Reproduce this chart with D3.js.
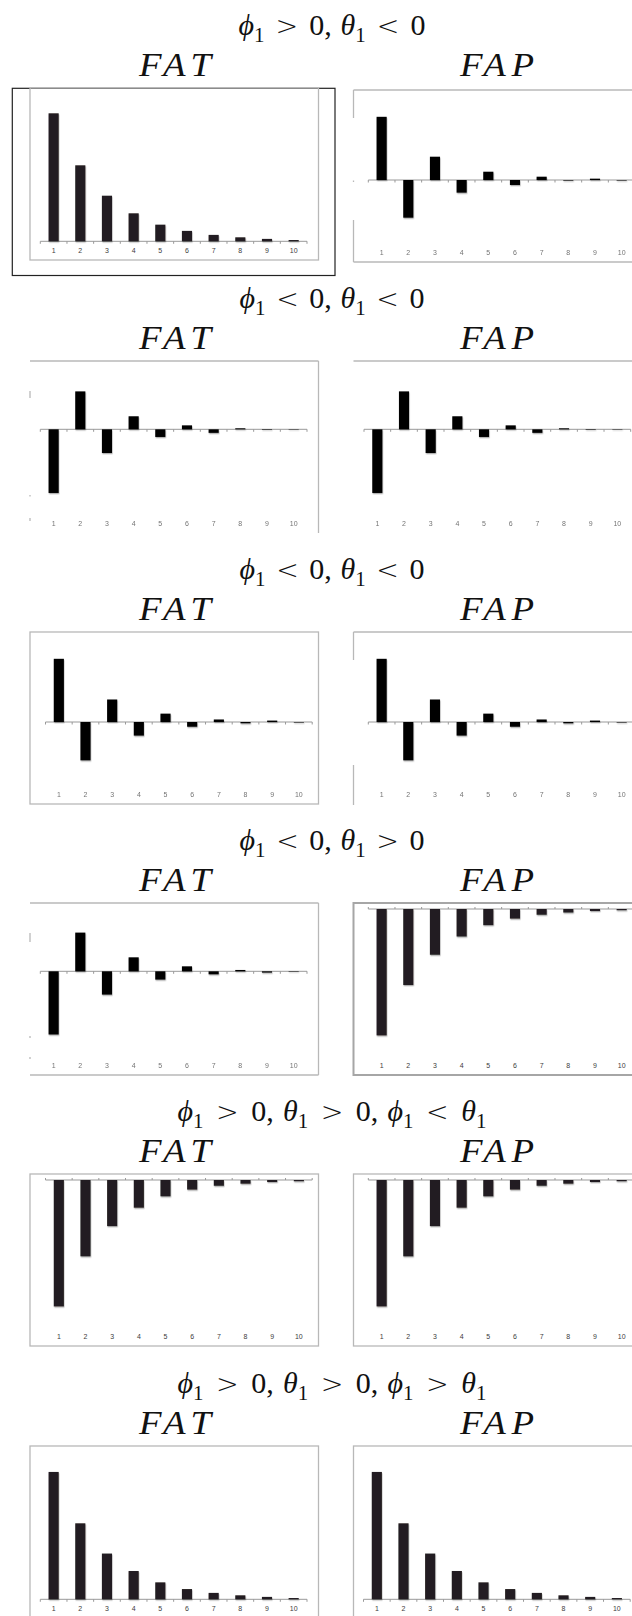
<!DOCTYPE html>
<html>
<head>
<meta charset="utf-8">
<script src="https://cdn.jsdelivr.net/npm/d3@7"></script>
<style>
  html, body { margin: 0; padding: 0; background: #fff; }
  svg { display: block; }
</style>
</head>
<body>
<script>
// Lags shown on every panel
const lags = ["1", "2", "3", "4", "5", "6", "7", "8", "9", "10"];

// Row headings (ARMA(1,1) parameter cases); "_1" marks a subscript
const rowTitles = [
  "ϕ_1 > 0, θ_1 < 0",
  "ϕ_1 < 0, θ_1 < 0",
  "ϕ_1 < 0, θ_1 < 0",
  "ϕ_1 < 0, θ_1 > 0",
  "ϕ_1 > 0, θ_1 > 0, ϕ_1 < θ_1",
  "ϕ_1 > 0, θ_1 > 0, ϕ_1 > θ_1"
];
const panelNames = ["FAT", "FAP"];

// Autocorrelation (FAT) and partial autocorrelation (FAP) by lag
const fat1 = [0.800, 0.475, 0.285, 0.175, 0.104, 0.065, 0.040, 0.025, 0.015, 0.008];
const fap1 = [0.800, -0.477, 0.295, -0.160, 0.105, -0.063, 0.042, -0.008, 0.017, -0.007];
const fat2 = [-0.806, 0.480, -0.300, 0.165, -0.097, 0.050, -0.045, 0.013, -0.007, -0.005];
const fap2 = [-0.806, 0.480, -0.300, 0.165, -0.097, 0.050, -0.045, 0.013, -0.007, -0.005];
const fat3 = [0.800, -0.485, 0.285, -0.172, 0.106, -0.060, 0.032, -0.017, 0.018, -0.007];
const fap3 = [0.800, -0.485, 0.285, -0.172, 0.106, -0.060, 0.032, -0.017, 0.018, -0.007];
const fat4 = [-0.800, 0.490, -0.295, 0.177, -0.105, 0.063, -0.038, 0.017, -0.017, -0.006];
const fap4 = [-0.790, -0.475, -0.286, -0.172, -0.101, -0.060, -0.036, -0.022, -0.0125, -0.008];
const fat5 = [-0.790, -0.477, -0.288, -0.173, -0.102, -0.060, -0.036, -0.023, -0.0125, -0.008];
const fap5 = [-0.790, -0.477, -0.288, -0.173, -0.102, -0.060, -0.036, -0.023, -0.0125, -0.008];
const fat6 = [0.796, 0.475, 0.286, 0.177, 0.106, 0.064, 0.040, 0.025, 0.015, 0.008];
const fap6 = [0.796, 0.475, 0.286, 0.177, 0.106, 0.064, 0.040, 0.025, 0.015, 0.008];

const fatSeries = [fat1, fat2, fat3, fat4, fat5, fat6];
const fapSeries = [fap1, fap2, fap3, fap4, fap5, fap6];

// ---- layout ----
const W = 632, H = 1616;
const rowTops = [88, 361, 632, 903, 1174, 1446];
const titleWidths = [187, 185, 185, 185, 309, 309];
const nameWidths = [72, 74];
const boxX = [30, 353.5], boxW = [288.5, 290], boxH = 172;
const fatMode = ["pos", "mixB", "mixA", "mixB", "neg", "pos"];
const fapMode = ["mixA", "mixB", "mixA", "neg", "neg", "pos"];
const fatAxisX = [40.3, 40.3, 45.5, 40.3, 45.5, 40.3];
const fapAxisX = [368.3, 364, 368.3, 368.3, 368.3, 363.5];
const fatDark = [true, false, false, false, true, true];
const fapDark = [false, false, false, true, true, true];
const fatBorder = ["full", "topRight", "full", "topRightBottom", "full", "full"];
const fapBorder = ["topBottom", "top", "top", "full", "full", "full"];
const fatLeftBits = [[], [[30, 37], [134, 135.5], [157, 160]], [], [[30, 39], [133, 135], [154, 156]], [], []];
const fapLeftBits = [[[0, 28], [90.5, 92], [130, 172]], [], [[0, 28], [133, 173]], [], [], []];

// vertical scale setups: zero offset from box top, domain, and units -> px
const modes = {
  pos:  { zero: 153.3, domain: [0, 0.9],  up: 160, down: 0 },
  neg:  { zero: 6,     domain: [-0.9, 0], up: 0,   down: 160 },
  mixA: { zero: 90,    domain: [-1, 1],   up: 79,  down: 79 },
  mixB: { zero: 68.3,  domain: [-1, 0.6], up: 79,  down: 79 }
};

const svg = d3.select("body").append("svg")
  .attr("width", W).attr("height", H)
  .attr("viewBox", `0 0 ${W} ${H}`);

const defs = svg.append("defs");
defs.append("filter").attr("id", "barShadow")
  .attr("filterUnits", "userSpaceOnUse")
  .attr("x", 0).attr("y", 0).attr("width", W).attr("height", H)
  .append("feDropShadow")
  .attr("dx", 0.5).attr("dy", 1.3).attr("stdDeviation", 0.7)
  .attr("flood-color", "#000").attr("flood-opacity", 0.3);

const mathFont = "'Liberation Serif', 'DejaVu Serif', serif";
const relFont = "'DejaVu Sans', sans-serif";

// math-style heading: italic letters, upright digits, thin relation signs,
// subscripts; extra room goes mostly around the relation signs
function mathHeading(sel, str, x, y, size, width) {
  const t = sel.append("text")
    .attr("x", x).attr("y", y)
    .attr("text-anchor", "middle")
    .attr("font-family", mathFont)
    .attr("font-size", size)
    .attr("fill", "#111")
    .style("white-space", "pre");
  let shift = 0;
  const spaces = [];
  for (let i = 0; i < str.length; i++) {
    const c = str[i];
    if (c === "_") {
      const d = str[++i];
      const s = size * 0.22;
      t.append("tspan").attr("dy", s - shift).attr("font-size", size * 0.7).text(d);
      shift = s;
      continue;
    }
    const ts = t.append("tspan").text(c);
    if (shift) { ts.attr("dy", -shift); shift = 0; }
    if (/[ϕθA-Za-z]/.test(c)) ts.attr("font-style", "italic");
    if (c === "<" || c === ">") ts.attr("font-family", relFont).attr("font-size", size * 0.9)
      .attr("font-weight", 300);
    if (c === " ") spaces.push({ ts, w: str[i - 1] === "," ? 0.35 : 1 });
  }
  const natural = t.node().getComputedTextLength();
  const unit = (width - natural) / Math.max(1, d3.sum(spaces, s => s.w));
  spaces.forEach(s => s.ts.attr("dx", unit * s.w));
  return t;
}

// italic panel name, widened a little and spaced to the printed width
function panelName(sel, str, x, y, size, width) {
  const sx = 1.12;
  return sel.append("g")
    .attr("transform", `translate(${x},${y}) scale(${sx},1)`)
    .append("text")
    .attr("text-anchor", "middle")
    .attr("font-family", mathFont)
    .attr("font-style", "italic")
    .attr("font-size", size)
    .attr("fill", "#111")
    .attr("textLength", width / sx)
    .attr("lengthAdjust", "spacing")
    .text(str);
}

function drawPanel(g, cfg) {
  const { x0box, top, w, values, mode, axisX, dark, border, leftBits, crisp } = cfg;
  const m = modes[mode];
  const zeroY = top + m.zero;
  const y = d3.scaleLinear()
    .domain(m.domain)
    .range([zeroY + m.down * -m.domain[0], zeroY - m.up * m.domain[1]]);

  const step = 26.67;
  const x = d3.scaleBand()
    .domain(lags)
    .range([axisX, axisX + step * lags.length])
    .paddingInner(0.62)
    .paddingOuter(0.31);

  // frame
  const fr = g.append("g").attr("fill", "none")
    .attr("stroke", cfg.thick ? "#a6a6a6" : "#b8b8b8")
    .attr("stroke-width", cfg.thick ? 2 : 1.3);
  const L = x0box, R = x0box + w, T = top, B = top + boxH;
  const seg = (a, b, c, d) => fr.append("line").attr("x1", a).attr("y1", b).attr("x2", c).attr("y2", d);
  if (border === "full") fr.append("rect").attr("x", L).attr("y", T).attr("width", w).attr("height", boxH);
  if (border.startsWith("top")) seg(L, T, R, T);
  if (border === "topRight" || border === "topRightBottom") seg(R, T, R, B);
  if (border === "topRightBottom" || border === "topBottom") seg(L, B, R, B);
  leftBits.forEach(([a, b]) => seg(L, T + a, L, T + b));

  // category axis line and boundary ticks
  const ax = g.append("g").attr("stroke", "#999").attr("stroke-width", 1);
  ax.append("line")
    .attr("x1", x.range()[0]).attr("x2", x.range()[1])
    .attr("y1", zeroY).attr("y2", zeroY);
  const bounds = lags.map(l => x(l) - x.step() * x.paddingInner() / 2).concat([x.range()[1]]);
  const tickDir = mode === "neg" ? -2 : 2.5;
  ax.selectAll("line.tk").data(bounds).join("line").attr("class", "tk")
    .attr("x1", d => d).attr("x2", d => d)
    .attr("y1", zeroY).attr("y2", zeroY + tickDir);

  // bars
  g.append("g").attr("filter", "url(#barShadow)")
    .selectAll("rect").data(values).join("rect")
    .attr("x", (d, i) => x(lags[i]))
    .attr("width", x.bandwidth())
    .attr("y", d => Math.min(y(d), y(0)))
    .attr("height", d => Math.abs(y(d) - y(0)))
    .attr("fill", dark ? "#231f20" : "#000");

  // lag labels along the bottom of the frame
  const labels = g.append("g")
    .attr("transform", `translate(0,${top + 160.5})`)
    .call(d3.axisBottom(x).tickSize(0).tickPadding(0));
  labels.select(".domain").remove();
  labels.selectAll("text")
    .attr("font-family", "'Liberation Sans', Arial, sans-serif")
    .attr("font-size", 7)
    .attr("fill", crisp ? "#3c3c3c" : "#5a5a5a")
    .attr("opacity", crisp ? 1 : 0.85);
}

const root = svg.append("g");

// outer frame around the first autocorrelation panel
root.append("rect")
  .attr("x", 12.3).attr("y", 88.3).attr("width", 322.7).attr("height", 187.2)
  .attr("fill", "none").attr("stroke", "#222").attr("stroke-width", 1.2);

rowTops.forEach((rt, r) => {
  mathHeading(root, rowTitles[r], 332, rt - 53, 30, titleWidths[r]);
  [175, 497].forEach((cx, k) => {
    panelName(root, panelNames[k], cx, rt - 12.5, 33, nameWidths[k]);
  });

  drawPanel(root.append("g"), {
    x0box: boxX[0], top: rt, w: boxW[0],
    values: fatSeries[r], mode: fatMode[r], axisX: fatAxisX[r],
    dark: fatDark[r], border: fatBorder[r], leftBits: fatLeftBits[r],
    crisp: fatDark[r], thick: false
  });
  drawPanel(root.append("g"), {
    x0box: boxX[1], top: r === 0 ? rt + 2 : rt, w: boxW[1],
    values: fapSeries[r], mode: fapMode[r], axisX: fapAxisX[r],
    dark: fapDark[r], border: fapBorder[r], leftBits: fapLeftBits[r],
    crisp: fapDark[r], thick: r === 3
  });
});
</script>
</body>
</html>
